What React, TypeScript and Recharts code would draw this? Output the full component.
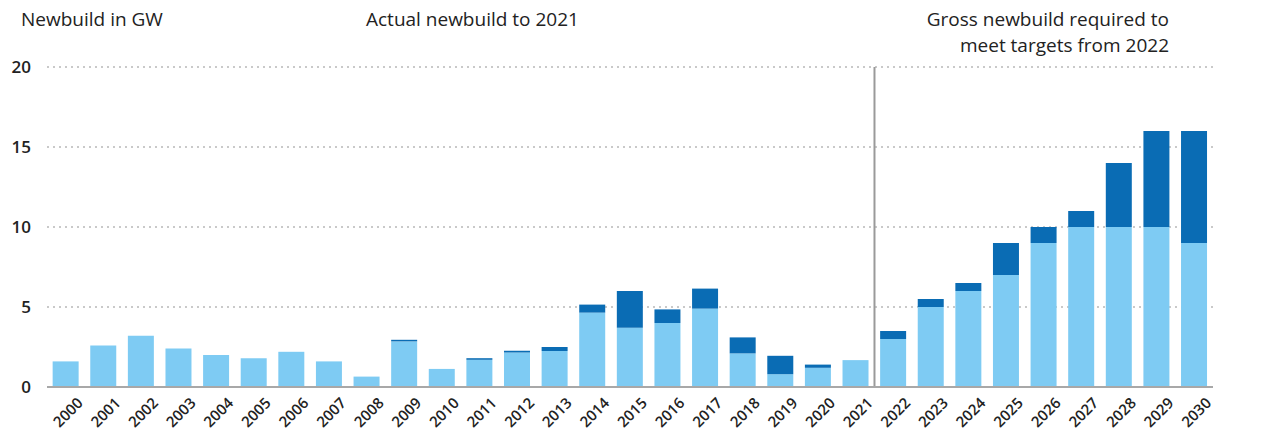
import { BarChart, Bar, XAxis, YAxis, CartesianGrid, ReferenceLine } from 'recharts'

const years = [
  '2000', '2001', '2002', '2003', '2004', '2005', '2006', '2007', '2008', '2009',
  '2010', '2011', '2012', '2013', '2014', '2015', '2016', '2017', '2018', '2019',
  '2020', '2021', '2022', '2023', '2024', '2025', '2026', '2027', '2028', '2029', '2030',
]

// light blue base part of each bar (GW)
const lightValues = [
  1.6, 2.6, 3.2, 2.4, 2.0, 1.8, 2.2, 1.6, 0.65, 2.85,
  1.13, 1.7, 2.15, 2.25, 4.65, 3.7, 4.0, 4.9, 2.1, 0.8,
  1.2, 1.68, 3.0, 5.0, 6.0, 7.0, 9.0, 10, 10, 10, 9,
]

// dark blue top part (GW)
const darkValues = [
  0, 0, 0, 0, 0, 0, 0, 0, 0, 0.1,
  0, 0.1, 0.12, 0.25, 0.5, 2.3, 0.85, 1.25, 1.0, 1.15,
  0.2, 0, 0.5, 0.5, 0.5, 2.0, 1.0, 1.0, 4.0, 6.0, 7.0,
]

const yTicks = [0, 5, 10, 15, 20]

const LIGHT = '#7ecbf3'
const DARK = '#0a6cb4'
const FONT = '"Open Sans", sans-serif'
const INK = '#222'

const data = years.map((year, i) => ({ year, light: lightValues[i], dark: darkValues[i] }))

function YearTick({ x, y, payload }: any) {
  return (
    <g transform={`translate(${x + 9},${y})`}>
      <text
        transform="rotate(-45)"
        textAnchor="end"
        dominantBaseline="hanging"
        fontSize={15}
        fontWeight={600}
        fill={INK}
        fontFamily={FONT}
      >
        {payload.value}
      </text>
    </g>
  )
}

const titleStyle = { position: 'absolute' as const, top: 6, fontSize: 19, fontWeight: 500, color: INK, lineHeight: '26px' }

export default function App() {
  return (
    <div style={{ position: 'absolute', left: 0, top: 0, width: 1261, height: 434, background: '#fff', fontFamily: FONT }}>
      <div style={{ ...titleStyle, left: 21 }}>Newbuild in GW</div>
      <div style={{ ...titleStyle, left: 366 }}>Actual newbuild to 2021</div>
      <div style={{ ...titleStyle, right: 92, textAlign: 'right' }}>
        Gross newbuild required to
        <br />
        meet targets from 2022
      </div>
      <BarChart
        width={1261}
        height={434}
        data={data}
        margin={{ top: 67, right: 0, bottom: 0, left: 0 }}
        barCategoryGap="15%"
      >
        <CartesianGrid yAxisId="left" vertical={false} stroke="#b8b8b8" strokeDasharray="2 4" strokeWidth={1.5} />
        <XAxis
          dataKey="year"
          height={47}
          interval={0}
          tickLine={false}
          axisLine={{ stroke: '#a8a8a8', strokeWidth: 2 }}
          tick={<YearTick />}
        />
        <YAxis
          yAxisId="left"
          width={47}
          domain={[0, 20]}
          ticks={yTicks}
          axisLine={false}
          tickLine={false}
          tickMargin={10}
          tick={{ fontSize: 17, fontWeight: 600, fill: INK, fontFamily: FONT }}
        />
        <YAxis
          yAxisId="right"
          orientation="right"
          width={48}
          domain={[0, 20]}
          ticks={yTicks}
          axisLine={false}
          tickLine={false}
          tickMargin={8}
          tick={{ fontSize: 17, fontWeight: 600, fill: INK, fontFamily: FONT }}
        />
        <ReferenceLine yAxisId="left" x="2022" position="start" stroke="#9a9a9a" strokeWidth={2} />
        <Bar yAxisId="left" dataKey="light" stackId="a" fill={LIGHT} isAnimationActive={false} />
        <Bar yAxisId="left" dataKey="dark" stackId="a" fill={DARK} isAnimationActive={false} />
      </BarChart>
    </div>
  )
}
